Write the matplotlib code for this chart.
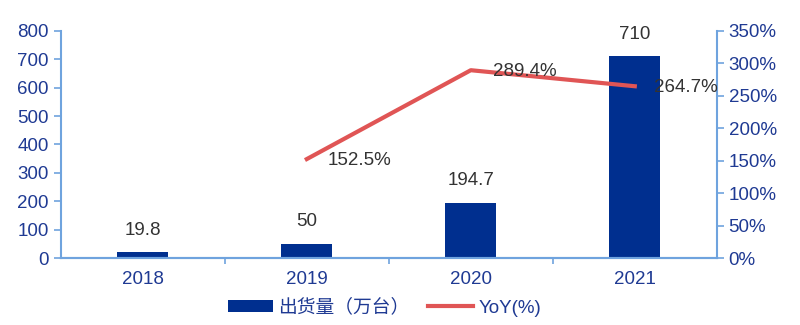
import matplotlib
matplotlib.use("Agg")
import matplotlib.pyplot as plt
from matplotlib.ticker import FuncFormatter, FixedLocator

plt.rcParams['font.family'] = ['Liberation Sans', 'Noto Sans CJK SC', 'DejaVu Sans']

years = ['2018', '2019', '2020', '2021']
shipments = [19.8, 50, 194.7, 710]
shipment_labels = ['19.8', '50', '194.7', '710']
yoy_years = ['2019', '2020', '2021']
yoy = [152.5, 289.4, 264.7]

bar_color = '#002f8f'
line_color = '#e05555'
tick_color = '#1f3a93'
spine_color = '#6fa3de'
label_color = '#333333'
fs = 13.5

fig = plt.figure(figsize=(8, 3.25), dpi=100)
ax = fig.add_axes([0.076, 0.206, 0.82, 0.699])
x = list(range(len(years)))
ax.bar(x, shipments, width=0.31, color=bar_color, zorder=2, label='出货量（万台）')
ax.set_xlim(-0.5, 3.5)
ax.set_ylim(0, 800)
ax.set_yticks(range(0, 801, 100))
ax.set_xticks(x)
ax.set_xticklabels(years)
ax.xaxis.set_minor_locator(FixedLocator([0.5, 1.5, 2.5]))
for xi, v, t in zip(x, shipments, shipment_labels):
    ax.annotate(t, (xi, v), xytext=(0, 10), textcoords='offset points',
                ha='center', va='bottom', fontsize=fs, color=label_color)

ax2 = ax.twinx()
xl = [years.index(y) for y in yoy_years]
ax2.plot(xl, yoy, color=line_color, lw=3, zorder=3, label='YoY(%)')
ax2.set_ylim(0, 350)
ax2.set_yticks(range(0, 351, 50))
ax2.yaxis.set_major_formatter(FuncFormatter(lambda v, p: f'{int(v)}%'))
offsets = [(15, -1), (16, -1), (14, -1)]
for xi, v, off in zip(xl, yoy, offsets):
    ax2.annotate(f'{v}%', (xi, v), xytext=off, textcoords='offset points',
                 ha='left', va='center', fontsize=fs, color=label_color)

for a in (ax, ax2):
    a.spines['top'].set_visible(False)
    for s in ['left', 'right', 'bottom']:
        a.spines[s].set_color(spine_color)
        a.spines[s].set_linewidth(1.5)
    a.tick_params(axis='y', colors=spine_color, labelcolor=tick_color, labelsize=fs, length=5, width=1.2)
    a.tick_params(axis='x', which='major', length=0, labelcolor=tick_color, labelsize=fs, pad=9)
    a.tick_params(axis='x', which='minor', length=4, width=1.2, color=spine_color)
ax.spines['right'].set_visible(False)
ax2.spines['left'].set_visible(False)

h1, l1 = ax.get_legend_handles_labels()
h2, l2 = ax2.get_legend_handles_labels()
leg = fig.legend(h1 + h2, l1 + l2, loc='center', bbox_to_anchor=(0.481, 0.053), ncol=2,
                 frameon=False, fontsize=fs, handlelength=2.4, handleheight=0.6,
                 columnspacing=1.0, handletextpad=0.3)
for t in leg.get_texts():
    t.set_color(tick_color)

fig.savefig('out.png', dpi=100)
